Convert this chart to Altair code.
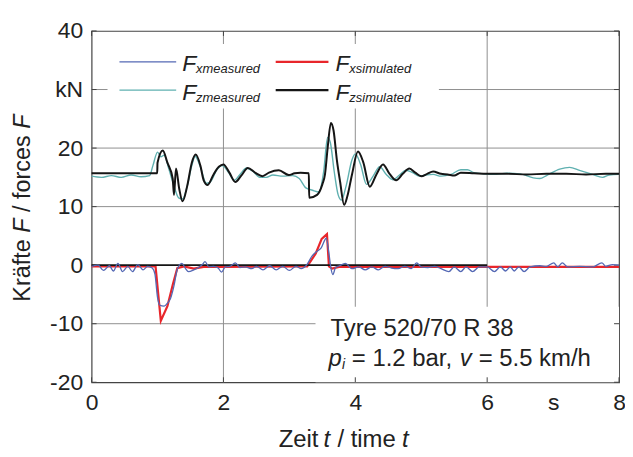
import altair as alt
import pandas as pd

# ---------------- data ----------------
fz_sim_t = [0, 0.995, 1.0, 1.08, 1.15, 1.23, 1.25, 1.28, 1.33, 1.38, 1.45, 1.52, 1.58, 1.65, 1.70, 1.76,
            1.85, 1.93, 2.0, 2.09, 2.18, 2.27, 2.37, 2.48, 2.59, 2.69, 2.84, 2.99, 3.08, 3.17, 3.295,
            3.30, 3.42, 3.50, 3.54, 3.58, 3.63, 3.67, 3.72, 3.77, 3.83, 3.88, 3.95, 4.04, 4.12, 4.22,
            4.32, 4.42, 4.52, 4.62, 4.72, 4.82, 4.91, 5.0, 5.09, 5.18, 5.3, 5.4, 5.5, 5.6, 5.8, 6.0,
            6.3, 6.6, 6.9, 7.2, 7.5, 7.8, 8.0]
fz_sim_f = [15.7, 15.7, 17.5, 19.6, 17.5, 14.8, 12.0, 16.5, 13.0, 10.9, 13.5, 17.5, 18.9, 17.0, 14.5, 13.7,
            15.5, 16.8, 17.2, 15.8, 14.2, 15.3, 16.6, 15.8, 15.2, 15.8, 16.2, 15.4, 15.7, 15.8, 15.7,
            11.5, 12.0, 13.8, 15.5, 20.0, 24.3, 23.0, 18.0, 14.2, 10.3, 11.8, 15.5, 19.4, 17.6, 13.4,
            15.5, 17.2, 15.6, 14.5, 15.6, 16.5, 15.8, 15.2, 15.6, 16.0, 15.6, 15.5, 15.3, 15.8, 15.7, 15.6,
            15.6, 15.5, 15.6, 15.6, 15.5, 15.6, 15.6]

fz_meas_t = [0, 0.15, 0.3, 0.45, 0.6, 0.75, 0.88, 0.93, 1.0, 1.05, 1.1, 1.17, 1.25, 1.32, 1.38, 1.45,
             1.52, 1.57, 1.65, 1.74, 1.8, 1.9, 1.98, 2.08, 2.16, 2.25, 2.35, 2.45, 2.55, 2.65, 2.75,
             2.9, 3.05, 3.15, 3.25, 3.35, 3.45, 3.52, 3.58, 3.62, 3.68, 3.74, 3.79, 3.86, 3.95, 4.0,
             4.08, 4.17, 4.27, 4.37, 4.47, 4.57, 4.67, 4.77, 4.87, 4.97, 5.08, 5.18, 5.3, 5.45, 5.6,
             5.7, 5.8, 5.95, 6.1, 6.3, 6.5, 6.7, 6.8, 6.9, 7.1, 7.25, 7.4, 7.6, 7.75, 7.85, 8.0]
fz_meas_f = [15.2, 15.0, 15.3, 15.0, 15.4, 15.1, 15.3, 17.0, 19.3, 18.5, 18.8, 16.5, 13.5, 11.5, 11.3, 13.5,
             17.0, 18.6, 16.8, 14.0, 14.2, 16.3, 17.0, 15.8, 14.5, 15.5, 16.6, 16.0, 15.0, 15.0, 15.4,
             15.2, 15.3, 14.8, 13.2, 12.8, 12.5, 16.0, 21.8, 21.0, 16.0, 12.0, 11.1, 13.5, 18.0, 19.0,
             17.2, 13.8, 15.2, 16.8, 15.5, 14.6, 15.4, 16.2, 15.8, 15.2, 15.4, 15.5, 15.2, 15.5, 16.3,
             16.3, 15.8, 15.6, 15.5, 15.7, 15.6, 14.9, 14.8, 15.3, 16.4, 16.7, 16.2, 15.5, 15.0, 15.4, 15.5]

fx_sim_t = [0, 0.97, 1.05, 1.15, 1.23, 1.30, 1.4, 1.55, 1.7, 2.0, 3.27, 3.40, 3.49, 3.57, 3.60, 3.65,
            3.75, 5.0, 6.0, 8.0]
fx_sim_f = [-0.2, -0.2, -9.5, -7.0, -3.4, -0.5, -0.2, -0.6, -0.3, -0.3, -0.2, 2.0, 4.5, 5.3, -0.2, -0.6,
            -0.3, -0.3, -0.3, -0.3]

fx_meas_t = [0, 0.1, 0.18, 0.27, 0.33, 0.40, 0.47, 0.55, 0.62, 0.7, 0.78, 0.85, 0.92, 0.96, 1.0, 1.03,
             1.10, 1.15, 1.20, 1.25, 1.30, 1.37, 1.42, 1.47, 1.55, 1.62, 1.68, 1.72, 1.78, 1.85, 1.92,
             1.97, 2.03, 2.1, 2.18, 2.25, 2.33, 2.43, 2.5, 2.6, 2.7, 2.8, 2.9, 3.0, 3.1, 3.18, 3.26,
             3.34, 3.41, 3.48, 3.56, 3.60, 3.63, 3.66, 3.70, 3.76, 3.85, 3.95, 4.05, 4.15, 4.25, 4.35,
             4.45, 4.55, 4.65, 4.75, 4.85, 4.93, 5.0, 5.1, 5.2, 5.3, 5.42, 5.5, 5.6, 5.68, 5.78, 5.88,
             6.0, 6.11, 6.2, 6.28, 6.35, 6.41, 6.48, 6.56, 6.65, 6.8, 6.9, 7.01, 7.07, 7.14, 7.22, 7.4,
             7.6, 7.74, 7.8, 7.9, 8.0]
fx_meas_f = [-0.2, 0.0, -0.9, -0.1, -1.0, 0.3, -1.1, -0.2, -1.1, 0.1, -0.8, -0.2, -0.5, -1.5, -5.5, -6.8,
             -7.0, -6.5, -5.6, -3.5, -0.7, 0.3, -0.5, -1.1, -0.8, -0.4, 0.1, 0.6, -0.3, -0.2, -0.5,
             -1.2, -0.3, -0.2, 0.4, -0.4, -0.3, -0.6, -0.2, -0.8, -0.1, -0.8, -0.2, -0.9, -0.2, -0.6, 0.0,
             1.5, 2.3, 2.9, 4.6, 2.0, -0.5, -1.6, -0.4, -0.1, 0.3, -0.6, -0.3, -0.8, -0.3, -0.8,
             -0.2, -0.5, -0.6, -0.2, -0.6, 0.4, -0.3, -0.4, -0.2, -0.6, -1.1, -0.3, -1.1, -0.3, -1.1, -0.3,
             -0.3, -1.1, -0.3, -1.0, -0.3, -1.0, -0.3, -1.1, -0.3, -0.1, -0.2, 0.4, -0.3, 0.4, -0.3, -0.2,
             -0.3, 0.4, -0.2, 0.1, 0.0]

zero_line_t = [0, 6]
zero_line_f = [0, 0]

x_ticks = [0, 2, 4, 6, 7, 8]          # 7 carries the unit label "s"
y_ticks = [-20, -10, 0, 10, 20, 30, 40]  # 30 carries the unit label "kN"
x_grid = [2, 4, 6]
y_grid = [-10, 10, 20, 30]

legend_names = ["xmeasured", "xsimulated", "zmeasured", "zsimulated"]

# ---------------- styling ----------------
W, H = 530, 353
FONT = "Liberation Sans"
BLUE, RED, TEAL, BLACK = "#5468b4", "#e8262b", "#5fb0b0", "#151515"
GRID = "#8f8f8f"

xs = alt.Scale(domain=[0, 8], nice=False, zero=False)
ys = alt.Scale(domain=[-20, 40], nice=False, zero=False)
xaxis = alt.Axis(values=x_ticks, labelExpr="datum.value == 7 ? 's' : '' + datum.value", grid=False,
                 ticks=False, domain=False, title=None, labelFontSize=23, labelFont=FONT,
                 labelColor="#222", labelPadding=9, labelFlush=False, labelOverlap=False)
yaxis = alt.Axis(values=y_ticks, labelExpr="datum.value == 30 ? 'kN' : '' + datum.value", grid=False,
                 ticks=False, domain=False, title=None, labelFontSize=23, labelFont=FONT,
                 labelColor="#222", labelPadding=9, labelOverlap=False)

def X():
    return alt.X("t:Q", scale=xs, axis=xaxis)

def Y():
    return alt.Y("F:Q", scale=ys, axis=yaxis)

one = pd.DataFrame({"a": [0]})
layers = []

# grid lines
layers.append(alt.Chart(pd.DataFrame({"t": x_grid})).mark_rule(color=GRID, strokeWidth=1).encode(x=X()))
layers.append(alt.Chart(pd.DataFrame({"F": y_grid})).mark_rule(color=GRID, strokeWidth=1).encode(y=Y()))

# white boxes behind legend and annotation
for x0, x1, y0, y1 in [(16, 349, 13, 78), (225, W, 277, H)]:
    layers.append(alt.Chart(one).mark_rect(fill="white").encode(
        x=alt.value(x0), x2=alt.value(x1), y=alt.value(y0), y2=alt.value(y1)))

# inward ticks
tx = pd.DataFrame({"t": [0, 2, 4, 6, 8]})
ty = pd.DataFrame({"F": y_ticks})
layers.append(alt.Chart(tx).mark_rule(color="#444").encode(x=X(), y=alt.value(H), y2=alt.value(H - 5)))
layers.append(alt.Chart(tx).mark_rule(color="#444").encode(x=X(), y=alt.value(0), y2=alt.value(5)))
layers.append(alt.Chart(ty).mark_rule(color="#444").encode(y=Y(), x=alt.value(0), x2=alt.value(5)))
layers.append(alt.Chart(ty).mark_rule(color="#444").encode(y=Y(), x=alt.value(W), x2=alt.value(W - 5)))

def series(t, f, color, width, interp="monotone"):
    df = pd.DataFrame({"t": t, "F": f, "i": list(range(len(t)))})
    return alt.Chart(df).mark_line(color=color, strokeWidth=width, interpolate=interp).encode(
        x=X(), y=Y(), order="i:Q")

layers.append(series(fz_meas_t, fz_meas_f, TEAL, 1.4))
layers.append(series(fx_sim_t, fx_sim_f, RED, 2.2, "linear"))
layers.append(series(zero_line_t, zero_line_f, BLACK, 1.6, "linear"))
layers.append(series(fx_meas_t, fx_meas_f, BLUE, 1.3))
layers.append(series(fz_sim_t, fz_sim_f, BLACK, 2.0))

# legend drawn by hand
leg_colors = [BLUE, RED, TEAL, BLACK]
leg_widths = [1.3, 2.2, 1.3, 2.2]
leg_cols = [(28, 85, 91), (185, 238, 245)]
leg_rows = [(31, 40), (59.5, 69)]
for k, name in enumerate(legend_names):
    (lx0, lx1, fx), (ly, by) = leg_cols[k % 2], leg_rows[k // 2]
    layers.append(alt.Chart(one).mark_rule(color=leg_colors[k], strokeWidth=leg_widths[k]).encode(
        x=alt.value(lx0), x2=alt.value(lx1), y=alt.value(ly)))
    layers.append(alt.Chart(one).mark_text(text="F", font=FONT, fontSize=23, fontStyle="italic",
                                           align="left", baseline="alphabetic", color="#222").encode(
        x=alt.value(fx), y=alt.value(by)))
    layers.append(alt.Chart(one).mark_text(text=name, font=FONT, fontSize=13, fontStyle="italic",
                                           align="left", baseline="alphabetic", color="#222").encode(
        x=alt.value(fx + 14), y=alt.value(by + 2)))

# annotation
def txt(s, x, y, size=24, style="normal", align="left", angle=0):
    return alt.Chart(one).mark_text(text=s, font=FONT, fontSize=size, fontStyle=style, align=align,
                                    baseline="alphabetic", color="#222", angle=angle).encode(
        x=alt.value(x), y=alt.value(y))

layers.append(txt("Tyre 520/70 R 38", 240, 307))
layers.append(txt("p", 238, 337, style="italic"))
layers.append(txt("i", 251.5, 340, size=14, style="italic"))
layers.append(txt("= 1.2 bar,", 261.5, 337))
layers.append(txt("v", 370, 337, style="italic"))
layers.append(txt("= 5.5 km/h", 389, 337))

# x axis title
layers.append(txt("Zeit", 188, 418, size=24))
layers.append(txt("t", 233, 418, size=24, style="italic"))
layers.append(txt("/ time", 247, 418, size=24))
layers.append(txt("t", 312, 418, size=24, style="italic"))

# y axis title (rotated, reading upwards)
ty0 = 272
yx = -62
layers.append(txt("Kräfte", yx, ty0, size=23.5, angle=270))
layers.append(txt("F", yx, ty0 - 69.2, size=23.5, style="italic", angle=270))
layers.append(txt("/ forces", yx, ty0 - 90.1, size=23.5, angle=270))
layers.append(txt("F", yx, ty0 - 173.7, size=23.5, style="italic", angle=270))

chart = alt.layer(*layers).properties(
    width=W, height=H,
    padding={"left": 84, "top": 22, "right": 6, "bottom": 70},
    autosize=alt.AutoSizeParams(type="none"),
    background="white",
).configure_view(stroke="#444", strokeWidth=1.2)

chart.save("out.html", embed_options={"renderer": "svg", "actions": False})
